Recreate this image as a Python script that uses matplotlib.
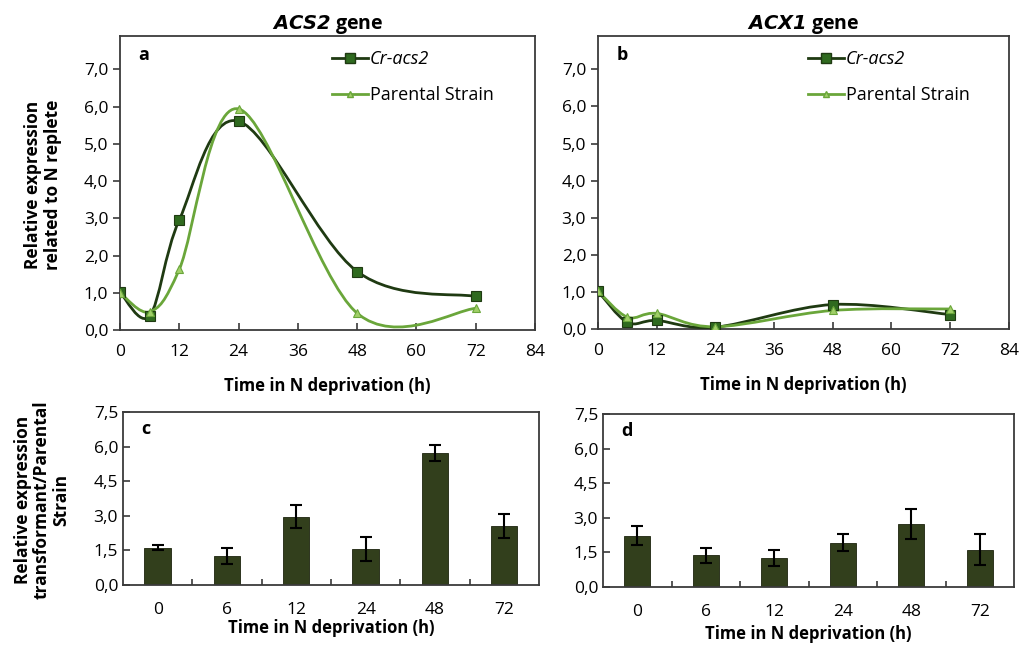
import numpy as np
import matplotlib
matplotlib.use('Agg')
import matplotlib.pyplot as plt
from matplotlib.path import Path
from matplotlib.patches import PathPatch
from matplotlib.ticker import FuncFormatter

plt.rcParams['font.family'] = ['Open Sans', 'DejaVu Sans']

# ---- data ----
hours = [0, 6, 12, 24, 48, 72]
acs2_mutant = [1.01, 0.38, 2.96, 5.61, 1.57, 0.90]
acs2_parental = [1.00, 0.49, 1.63, 5.94, 0.45, 0.58]
acx1_mutant = [1.02, 0.18, 0.23, 0.05, 0.66, 0.39]
acx1_parental = [1.02, 0.32, 0.42, 0.06, 0.50, 0.54]

bar_labels = ['0', '6', '12', '24', '48', '72']
ratio_acs2 = [1.62, 1.26, 2.97, 1.57, 5.72, 2.56]
ratio_acs2_err = [0.10, 0.33, 0.50, 0.53, 0.34, 0.53]
ratio_acx1 = [2.23, 1.37, 1.25, 1.93, 2.73, 1.62]
ratio_acx1_err = [0.42, 0.32, 0.35, 0.35, 0.65, 0.66]

DARK_LINE = '#1f3a12'
DARK_MARK = '#2f6a1f'
LIGHT_LINE = '#6aa63a'
LIGHT_MARK = '#a0cf68'
BAR_COL = '#323f1c'
SPINE = '#3a3a3a'

comma = FuncFormatter(lambda v, _: f"{v:.1f}".replace('.', ','))


def smooth_path(x, y):
    # Excel-like smoothed line as cubic bezier segments
    pts = np.column_stack([x, y]).astype(float)
    n = len(pts)
    verts = [pts[0]]
    codes = [Path.MOVETO]
    for i in range(n - 1):
        p0 = pts[max(i - 1, 0)]
        p1 = pts[i]
        p2 = pts[i + 1]
        p3 = pts[min(i + 2, n - 1)]
        verts += [p1 + (p2 - p0) / 6, p2 - (p3 - p1) / 6, p2]
        codes += [Path.CURVE4] * 3
    return Path(verts, codes)


def style_spines(ax):
    for s in ax.spines.values():
        s.set_color(SPINE)
        s.set_linewidth(1.3)


def line_panel(ax, mut, par, letter, title_gene):
    ax.add_patch(PathPatch(smooth_path(hours, mut), fill=False, color=DARK_LINE, lw=2.0, zorder=3))
    ax.add_patch(PathPatch(smooth_path(hours, par), fill=False, color=LIGHT_LINE, lw=2.0, zorder=4))
    ax.plot(hours, mut, ls='none', marker='s', ms=6.5, mfc=DARK_MARK, mec=DARK_LINE, mew=0.8, zorder=5)
    ax.plot(hours, par, ls='none', marker='^', ms=6, mfc=LIGHT_MARK, mec=LIGHT_LINE, mew=0.8, zorder=6)
    # legend proxies
    ax.plot([], [], color=DARK_LINE, lw=2.0, marker='s', ms=6.5, mfc=DARK_MARK, mec=DARK_LINE, label='Cr-acs2')
    ax.plot([], [], color=LIGHT_LINE, lw=2.0, marker='^', ms=5, mfc=LIGHT_MARK, mec=LIGHT_LINE, label='Parental Strain')
    leg = ax.legend(loc='upper left', bbox_to_anchor=(0.48, 0.995), frameon=False, fontsize=13,
                    handlelength=2.0, handletextpad=0.1, labelspacing=1.0, borderaxespad=0.3)
    leg.get_texts()[0].set_fontstyle('italic')
    ax.set_xlim(0, 84)
    ax.set_ylim(0, 7.9)
    ax.set_xticks(range(0, 85, 12))
    ax.set_yticks(np.arange(0, 7.1, 1.0))
    ax.yaxis.set_major_formatter(comma)
    ax.tick_params(axis='x', direction='in', length=5, width=1.2, color=SPINE, labelsize=12.5, pad=10)
    ax.tick_params(axis='y', direction='out', length=5, width=1.2, color=SPINE, labelsize=12.5)
    ax.set_xlabel('Time in N deprivation (h)', fontsize=12, fontweight='bold', labelpad=12)
    ax.text(0.045, 0.935, letter, transform=ax.transAxes, fontsize=13, fontweight='bold', va='center')
    ax.set_title(r'$\mathbfit{' + title_gene + r'}$' + ' gene', fontsize=14, fontweight='bold', pad=4)
    style_spines(ax)


def bar_panel(ax, vals, errs, letter, xpad):
    x = np.arange(len(vals))
    ax.bar(x, vals, width=0.38, color=BAR_COL, edgecolor='#1c230e', linewidth=0.6,
           yerr=errs, capsize=4, error_kw=dict(ecolor='black', elinewidth=1.5, capthick=1.5))
    ax.set_xlim(-0.5, len(vals) - 0.5)
    ax.set_ylim(0, 7.5)
    ax.set_yticks(np.arange(0, 7.6, 1.5))
    ax.yaxis.set_major_formatter(comma)
    ax.set_xticks(x)
    ax.set_xticklabels(bar_labels)
    ax.set_xticks(x[:-1] + 0.5, minor=True)
    ax.tick_params(axis='x', which='major', length=0, labelsize=12.5, pad=12)
    ax.tick_params(axis='x', which='minor', direction='in', length=4, width=1.2, color=SPINE)
    ax.tick_params(axis='y', direction='in', length=5, width=1.2, color=SPINE, labelsize=12.5)
    ax.set_xlabel('Time in N deprivation (h)', fontsize=12, fontweight='bold', labelpad=xpad)
    ax.text(0.045, 0.90, letter, transform=ax.transAxes, fontsize=13, fontweight='bold', va='center')
    style_spines(ax)


fig = plt.figure(figsize=(10.19, 6.46), dpi=100)
ax_a = fig.add_axes([0.1178, 0.4892, 0.4073, 0.4551])
ax_b = fig.add_axes([0.5868, 0.4907, 0.4033, 0.4536])
ax_c = fig.add_axes([0.1207, 0.0944, 0.4082, 0.2678])
ax_d = fig.add_axes([0.5918, 0.0913, 0.4033, 0.2678])

line_panel(ax_a, acs2_mutant, acs2_parental, 'a', 'ACS2')
line_panel(ax_b, acx1_mutant, acx1_parental, 'b', 'ACX1')
bar_panel(ax_c, ratio_acs2, ratio_acs2_err, 'c', 1)
bar_panel(ax_d, ratio_acx1, ratio_acx1_err, 'd', 4)

fig.text(43 / 1019, 1 - 185 / 646, 'Relative expression\nrelated to N replete', rotation=90,
         ha='center', va='center', fontsize=12.5, fontweight='bold', linespacing=1.1)
fig.text(42 / 1019, 1 - 500 / 646, 'Relative expression\ntransformant/Parental\nStrain', rotation=90,
         ha='center', va='center', fontsize=12.5, fontweight='bold', linespacing=1.1)

fig.savefig('out.png', dpi=100)
